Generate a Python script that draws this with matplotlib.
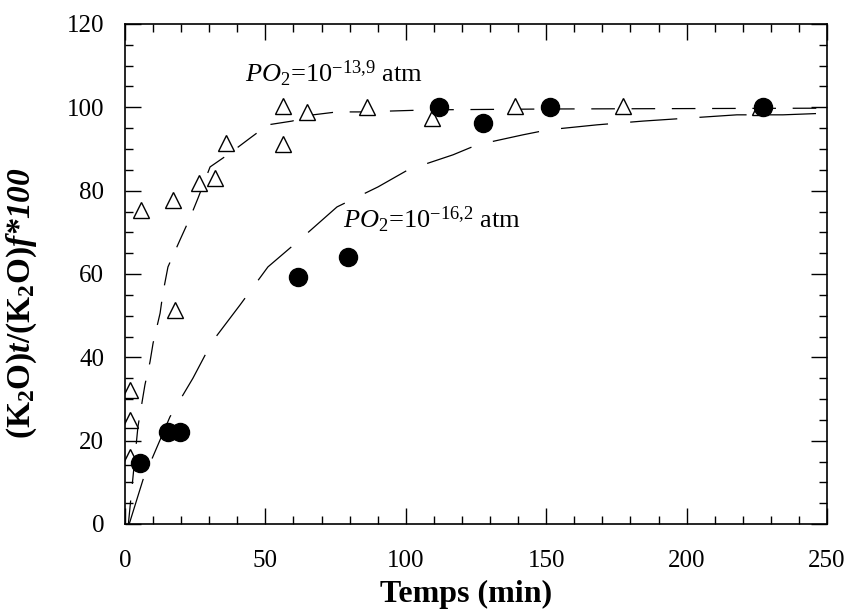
import matplotlib
matplotlib.use("Agg")
import matplotlib.pyplot as plt
from matplotlib.ticker import MultipleLocator

plt.rcParams['font.family'] = ['Liberation Serif', 'DejaVu Serif']
plt.rcParams['mathtext.fontset'] = 'custom'
plt.rcParams['mathtext.rm'] = 'Liberation Serif'
plt.rcParams['mathtext.it'] = 'Liberation Serif:italic'
plt.rcParams['mathtext.bf'] = 'Liberation Serif:bold'
plt.rcParams['mathtext.bfit'] = 'Liberation Serif:italic:bold'
plt.rcParams['lines.scale_dashes'] = False

# Data: PO2 = 10^-13.9 atm (open triangles)
tri_t = [1.8, 1.8, 1.8, 5.7, 17.0, 17.8, 26.4, 32.1, 35.9, 56.3, 56.3, 64.8,
         86.2, 109.3, 138.9, 177.4, 226.1]
tri_y = [16.1, 25.0, 32.2, 75.4, 77.8, 51.4, 81.8, 83.0, 91.4, 100.3, 91.2, 98.9,
         100.0, 97.4, 100.3, 100.3, 100.0]

# Data: PO2 = 10^-16.2 atm (filled circles)
cir_t = [5.3, 15.3, 19.6, 61.6, 79.4, 111.8, 127.5, 151.4, 227.2]
cir_y = [14.6, 22.1, 22.1, 59.3, 64.1, 100.0, 96.2, 100.0, 100.0]

# Fitted curve (fast, 10^-13.9)
fit1_t = [1.2, 4.6, 7.1, 8.9, 10.0, 12.5, 13.5, 15.3, 19.6, 23.1, 26.0, 30.3,
          37.4, 44.5, 50.9, 59.5, 67.0, 75.5, 84.4, 108.6, 150.0, 200.0, 250.0]
fit1_y = [0.0, 23.3, 33.4, 38.9, 43.4, 50.6, 55.4, 61.7, 68.2, 73.4, 78.2, 85.7,
          89.0, 92.6, 95.8, 96.7, 98.2, 98.9, 98.9, 99.4, 99.6, 99.7, 99.8]

# Fitted curve (slow, 10^-16.2)
fit2_t = [1.5, 6.4, 12.5, 16.0, 24.2, 31.0, 41.0, 50.9, 63.4, 75.5, 90.1, 100.8,
          116.8, 125.4, 141.7, 150.6, 168.1, 184.5, 217.9, 234.3, 250.0]
fit2_y = [0.0, 10.6, 20.2, 25.7, 35.0, 43.7, 52.6, 61.7, 68.9, 76.1, 80.9, 85.0,
          88.6, 91.0, 93.4, 94.6, 95.8, 96.7, 98.2, 98.2, 98.6]

xticks = [0, 50, 100, 150, 200, 250]
yticks = [0, 20, 40, 60, 80, 100, 120]

fig = plt.figure(figsize=(8.53, 6.15), dpi=100)
ax = fig.add_axes([125/853, 1-524/615, 702/853, 500/615])

ax.plot(fit1_t, fit1_y, color='black', lw=0.9, dashes=(17, 12))
ax.plot(fit2_t, fit2_y, color='black', lw=0.9, dashes=(34, 16))
ax.plot(tri_t, tri_y, linestyle='none', marker='^', ms=12, mfc='white',
        mec='black', mew=1.0)
ax.plot(cir_t, cir_y, linestyle='none', marker='o', ms=13, mfc='black',
        mec='black')

ax.set_xlim(0, 250)
ax.set_ylim(0, 120)
ax.set_xticks(xticks)
ax.set_yticks(yticks)
ax.xaxis.set_minor_locator(MultipleLocator(10))
ax.yaxis.set_minor_locator(MultipleLocator(5))
ax.tick_params(which='both', direction='in', top=True, right=True, width=1.0)
ax.tick_params(which='major', length=11.5)
ax.tick_params(which='minor', length=6)
ax.tick_params(axis='x', which='major', pad=19, labelsize=18)
ax.tick_params(axis='y', which='major', pad=15, labelsize=18)
for s in ax.spines.values():
    s.set_linewidth(1.2)

ax.set_xlabel('Temps (min)', fontsize=23, fontweight='bold', va='center')
ax.xaxis.set_label_coords(0.486, -0.14)
ax.set_ylabel(r'$\mathbf{(K_2O)}\mathbfit{t}\mathbf{/(K_2O)}\mathbfit{f{*}100}$',
              fontsize=24, va='center')
ax.yaxis.set_label_coords(-0.147, 0.442)

ax.text(42.7, 106.0, r'$PO_2$=10$^{-13{,}9}$ atm', fontsize=19, va='baseline')
ax.text(77.6, 71.0, r'$PO_2$=10$^{-16{,}2}$ atm', fontsize=19, va='baseline')

fig.savefig('out.png', dpi=100)
